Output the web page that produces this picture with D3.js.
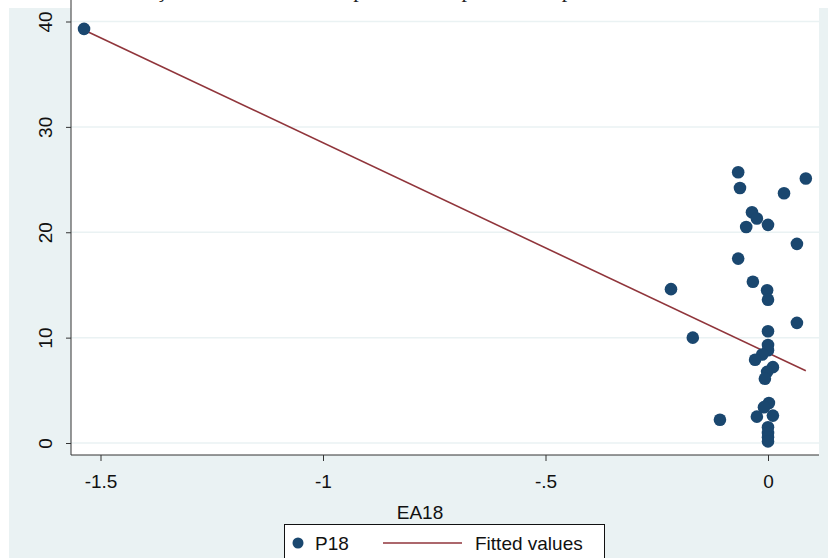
<!DOCTYPE html>
<html>
<head>
<meta charset="utf-8">
<script src="https://cdn.jsdelivr.net/npm/d3@7"></script>
<style>
  body { margin: 0; background: #fff; }
  text { font-family: "Liberation Sans", Arial, sans-serif; }
</style>
</head>
<body>
<div id="graph"></div>
<script>

// scatter points, EA18 (x) and P18 (y)
const ea18 = [-1.537, -0.218, -0.169, -0.108, -0.067, -0.063, -0.036, -0.025, -0.049, 0.000,
              0.036, 0.085, 0.065, -0.067, -0.034, -0.002, 0.000, 0.065, 0.000, 0.000,
              0.000, -0.013, -0.029, 0.011, -0.002, -0.007, 0.002, -0.009, -0.025, 0.011,
              0.000, 0.000, 0.000, 0.000];
const p18  = [39.3, 14.6, 10.0, 2.2, 25.7, 24.2, 21.9, 21.3, 20.5, 20.7,
              23.7, 25.1, 18.9, 17.5, 15.3, 14.5, 13.6, 11.4, 10.6, 9.3,
              8.8, 8.4, 7.9, 7.2, 6.75, 6.1, 3.8, 3.4, 2.5, 2.6,
              1.5, 0.95, 0.55, 0.15];

// fitted values line, two end points
const fitX = [-1.537, 0.085];
const fitY = [39.2, 6.85];

const xTicks = [-1.5, -1, -0.5, 0];
const xTickLabels = ["-1.5", "-1", "-.5", "0"];
const yTicks = [0, 10, 20, 30, 40];

const W = 828, H = 558;
const plot = {left: 71, right: 819, top: 8, bottom: 455};

const svg = d3.select("#graph").append("svg")
    .attr("width", W).attr("height", H);

// page + stata background
svg.append("rect").attr("width", W).attr("height", H).attr("fill", "#fff");
svg.append("rect").attr("x", 9).attr("y", 8).attr("width", W - 9).attr("height", H - 8)
    .attr("fill", "#eaf2f3");
svg.append("rect").attr("x", plot.left).attr("y", 0)
    .attr("width", plot.right - plot.left).attr("height", plot.bottom)
    .attr("fill", "#fff");

// caption of the surrounding document, mostly cut off at the top edge
svg.append("text")
    .attr("x", 10).attr("y", -3)
    .style("font-family", "'Liberation Serif', serif")
    .style("font-size", "22px")
    .attr("fill", "#222")
    .text("Gráfico 5 – Relação entre EA18 e P18 para o setor privado no período");

const x = d3.scaleLinear().domain([-1.5, 0]).range([100.5, 768]);
const y = d3.scaleLinear().domain([0, 40]).range([443, 21.5]);

// grid lines
svg.append("g").selectAll("line").data(yTicks).join("line")
    .attr("x1", plot.left).attr("x2", plot.right)
    .attr("y1", d => y(d)).attr("y2", d => y(d))
    .attr("stroke", "#eaf2f3").attr("stroke-width", 1.5);

// y axis
const yAxis = svg.append("g")
    .attr("transform", `translate(${plot.left},0)`)
    .call(d3.axisLeft(y).tickValues(yTicks).tickSize(5).tickPadding(0).tickFormat(d3.format("d")));
yAxis.select(".domain").attr("d", `M0,0V${plot.bottom}`).attr("stroke", "#333");
yAxis.selectAll(".tick line").attr("stroke", "#333");
yAxis.selectAll(".tick text")
    .attr("x", 0).attr("dy", 0)
    .attr("transform", "translate(-26,0) rotate(-90)")
    .attr("text-anchor", "middle")
    .attr("dominant-baseline", "central")
    .style("font-size", "19px").attr("fill", "#111");

// x axis
const xAxis = svg.append("g")
    .attr("transform", `translate(0,${plot.bottom})`)
    .call(d3.axisBottom(x).tickValues(xTicks).tickSize(6).tickPadding(14)
        .tickFormat((d, i) => xTickLabels[i]));
xAxis.select(".domain").attr("d", `M${plot.left},0H${plot.right}`).attr("stroke", "#333");
xAxis.selectAll(".tick line").attr("stroke", "#333");
xAxis.selectAll(".tick text").style("font-size", "19px").attr("fill", "#111");

svg.append("text")
    .attr("x", 420).attr("y", 519)
    .attr("text-anchor", "middle")
    .style("font-size", "19px").attr("fill", "#111")
    .text("EA18");

// fitted line
svg.append("path")
    .datum(fitX.map((d, i) => [d, fitY[i]]))
    .attr("fill", "none")
    .attr("stroke", "#90353b")
    .attr("stroke-width", 1.6)
    .attr("d", d3.line().x(d => x(d[0])).y(d => y(d[1])));

// points
svg.append("g").selectAll("circle").data(ea18).join("circle")
    .attr("cx", d => x(d))
    .attr("cy", (d, i) => y(p18[i]))
    .attr("r", 6.3)
    .attr("fill", "#1a476f");

// legend
const lg = svg.append("g");
lg.append("rect").attr("x", 284.5).attr("y", 524.5).attr("width", 320).attr("height", 40)
    .attr("fill", "#fff").attr("stroke", "#111");
lg.append("circle").attr("cx", 298).attr("cy", 543).attr("r", 5.5).attr("fill", "#1a476f");
lg.append("text").attr("x", 315).attr("y", 550).style("font-size", "19px").attr("fill", "#111").text("P18");
lg.append("line").attr("x1", 383).attr("x2", 462).attr("y1", 543).attr("y2", 543)
    .attr("stroke", "#90353b").attr("stroke-width", 1.6);
lg.append("text").attr("x", 475).attr("y", 550).style("font-size", "19px").attr("fill", "#111").text("Fitted values");

</script>
</body>
</html>
